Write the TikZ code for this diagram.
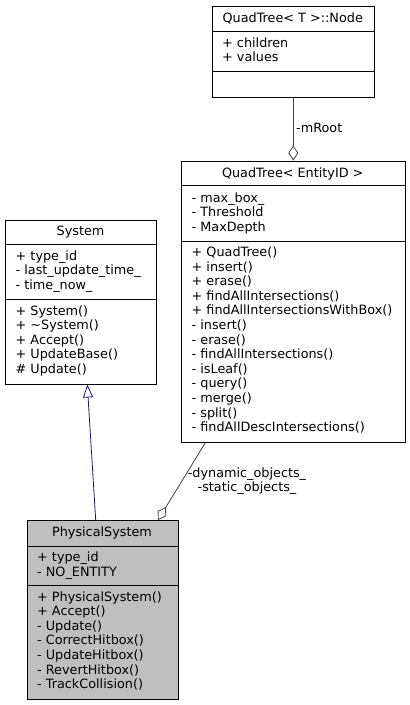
\documentclass[tikz,border=0pt]{standalone}
\usepackage{fontspec}
\setmainfont{DejaVu Sans}
\usetikzlibrary{arrows.meta,calc}
\begin{document}
\begin{tikzpicture}[x=1pt,y=-1pt,
  box/.style={draw=black,line width=1pt,inner sep=0pt,anchor=north west},
  sep/.style={draw=black,line width=1pt},
  lbl/.style={inner sep=0pt,anchor=base west,font=\fontsize{12.8}{14.6}\selectfont},
  ttl/.style={inner sep=0pt,anchor=base,font=\fontsize{12.8}{14.6}\selectfont},
  edge/.style={draw=black!75,line width=0.8pt},
  inh/.style={draw={rgb,255:red,25;green,25;blue,112},line width=0.8pt,-{Triangle[open,length=13pt,width=10pt]}},
  agg/.style={edge,-{Diamond[open,length=15pt,width=10pt]}}]
\useasboundingbox (0,0) rectangle (410,705);
% QuadTree<T>::Node
\node[box,minimum width=162.5pt,minimum height=91pt] (nd) at (211.5,5.5) {};
\draw[sep] (nd.west |- 0,31.5) -- (nd.east |- 0,31.5);
\draw[sep] (nd.west |- 0,71) -- (nd.east |- 0,71);
\node[ttl] (ndT) at (292.75,22) {QuadTree< T >::Node};
\foreach \t [count=\i from 0] in {+ children,+ values}
  \node[lbl] (ndA\i) at (222,{47+14.6*\i}) {\t};
% QuadTree<EntityID>
\node[box,minimum width=223.5pt,minimum height=281pt] (qt) at (181,160.5) {};
\draw[sep] (qt.west |- 0,185.5) -- (qt.east |- 0,185.5);
\draw[sep] (qt.west |- 0,241) -- (qt.east |- 0,241);
\node[ttl] (qtT) at (292.75,177) {QuadTree< EntityID >};
\foreach \t [count=\i from 0] in {- max\_box\_,- Threshold,- MaxDepth}
  \node[lbl] (qtA\i) at (191.5,{202+14.6*\i}) {\t};
\foreach \t [count=\i from 0] in {+ QuadTree(),+ insert(),+ erase(),+ findAllIntersections(),+ findAllIntersectionsWithBox(),- insert(),- erase(),- findAllIntersections(),- isLeaf(),- query(),- merge(),- split(),- findAllDescIntersections()}
  \node[lbl] (qtM\i) at (191.5,{256.5+14.6*\i}) {\t};
% System
\node[box,minimum width=151pt,minimum height=164pt] (sys) at (5,219.5) {};
\draw[sep] (sys.west |- 0,244.5) -- (sys.east |- 0,244.5);
\draw[sep] (sys.west |- 0,299.5) -- (sys.east |- 0,299.5);
\node[ttl] (sysT) at (80.5,235.5) {System};
\foreach \t [count=\i from 0] in {+ type\_id,- last\_update\_time\_,- time\_now\_}
  \node[lbl] (sysA\i) at (15.5,{260+14.6*\i}) {\t};
\foreach \t [count=\i from 0] in {+ System(),+ \textasciitilde System(),+ Accept(),+ UpdateBase(),\# Update()}
  \node[lbl] (sysM\i) at (15.5,{315+14.6*\i}) {\t};
% PhysicalSystem
\node[box,fill={rgb,255:red,191;green,191;blue,191},minimum width=151pt,minimum height=178.5pt] (ps) at (26.5,520) {};
\draw[sep] (ps.west |- 0,546) -- (ps.east |- 0,546);
\draw[sep] (ps.west |- 0,585.5) -- (ps.east |- 0,585.5);
\node[ttl] (psT) at (102,536) {PhysicalSystem};
\foreach \t [count=\i from 0] in {+ type\_id,- NO\_ENTITY}
  \node[lbl] (psA\i) at (37,{561.5+14.6*\i}) {\t};
\foreach \t [count=\i from 0] in {+ PhysicalSystem(),+ Accept(),- Update(),- CorrectHitbox(),- UpdateHitbox(),- RevertHitbox(),- TrackCollision()}
  \node[lbl] (psM\i) at (37,{601+14.6*\i}) {\t};
% connector end points
\coordinate (sysIn) at ($(sys.south west)+(82.3,0)$);
\coordinate (psInh) at ($(ps.north west)+(69.2,0)$);
\coordinate (qtOut) at ($(qt.south west)+(24.5,0)$);
\coordinate (psAgg) at ($(ps.north west)+(131.5,0)$);
% connectors
\draw[agg] (nd.south) -- (qt.north);
\node[lbl] (mroot) at (296,132) {-mRoot};
\draw[inh] (psInh) -- (sysIn);
\draw[agg] (qtOut) -- (psAgg);
\node[ttl] (lblDyn) at (247,477) {-dynamic\_objects\_};
\node[ttl] (lblStat) at (247,491.5) {-static\_objects\_};
\end{tikzpicture}
\end{document}
